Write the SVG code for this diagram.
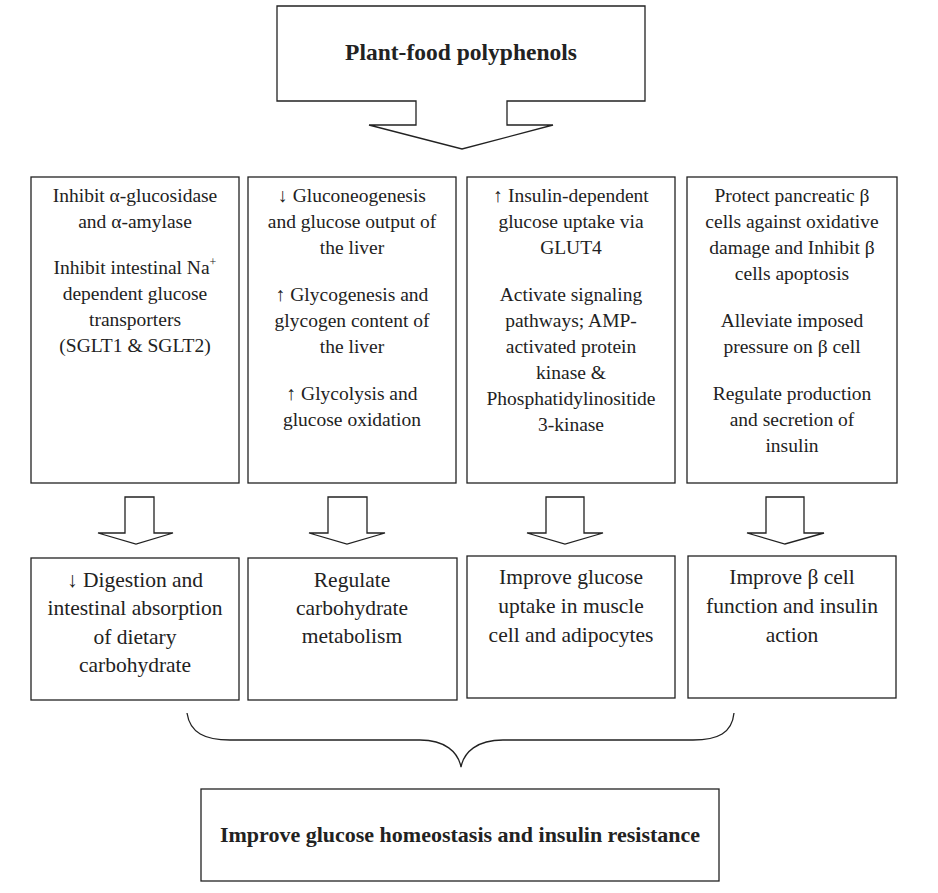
<svg xmlns="http://www.w3.org/2000/svg" width="938" height="893" viewBox="0 0 938 893">
<style>
.box{fill:#fff;stroke:#222;stroke-width:1.3}
.conn{fill:none;stroke:#222;stroke-width:1.3;stroke-linejoin:miter}
text{font-family:"Liberation Serif","Times New Roman",serif;fill:#222;text-anchor:middle}
.t1{font-size:19.5px}
.t2{font-size:21.5px}
.b{font-weight:bold}
</style>
<rect width="938" height="893" fill="#fff"/>
<g id="source">
<path class="box" d="M277,6 H645 V101 H507 V125 H553 L462,149 L369,125 H416 V101 H277 Z"/>
<text class="b" x="461" y="60" style="font-size:23.5px">Plant-food polyphenols</text>
</g>
<g id="mech1">
<rect class="box" x="31" y="177" width="208" height="306"/>
<text class="t1"><tspan x="135" y="202">Inhibit α-glucosidase</tspan><tspan x="135" y="228">and α-amylase</tspan><tspan x="135" y="274">Inhibit intestinal Na<tspan dy="-8" style="font-size:12px">+</tspan></tspan><tspan x="135" y="300">dependent glucose</tspan><tspan x="135" y="326">transporters</tspan><tspan x="135" y="352">(SGLT1 &amp; SGLT2)</tspan></text>
</g>
<g id="mech2">
<rect class="box" x="248" y="177" width="208" height="306"/>
<text class="t1"><tspan x="352" y="202">↓ Gluconeogenesis</tspan><tspan x="352" y="228">and glucose output of</tspan><tspan x="352" y="254">the liver</tspan><tspan x="352" y="301">↑ Glycogenesis and</tspan><tspan x="352" y="327">glycogen content of</tspan><tspan x="352" y="353">the liver</tspan><tspan x="352" y="400">↑ Glycolysis and</tspan><tspan x="352" y="426">glucose oxidation</tspan></text>
</g>
<g id="mech3">
<rect class="box" x="467" y="177" width="208" height="306"/>
<text class="t1"><tspan x="571" y="202">↑ Insulin-dependent</tspan><tspan x="571" y="228">glucose uptake via</tspan><tspan x="571" y="254">GLUT4</tspan><tspan x="571" y="301">Activate signaling</tspan><tspan x="571" y="327">pathways; AMP-</tspan><tspan x="571" y="353">activated protein</tspan><tspan x="571" y="379">kinase &amp;</tspan><tspan x="571" y="405">Phosphatidylinositide</tspan><tspan x="571" y="431">3-kinase</tspan></text>
</g>
<g id="mech4">
<rect class="box" x="687" y="177" width="210" height="306"/>
<text class="t1"><tspan x="792" y="202">Protect pancreatic β</tspan><tspan x="792" y="228">cells against oxidative</tspan><tspan x="792" y="254">damage and Inhibit β</tspan><tspan x="792" y="280">cells apoptosis</tspan><tspan x="792" y="327">Alleviate imposed</tspan><tspan x="792" y="353">pressure on β cell</tspan><tspan x="792" y="400">Regulate production</tspan><tspan x="792" y="426">and secretion of</tspan><tspan x="792" y="452">insulin</tspan></text>
</g>
<g id="connectors">
<path class="conn" d="M125,497 H154 V533 H173 L136,544 L98,533 H125 Z"/>
<path class="conn" d="M328,497 H367 V533 H385 L347,544 L309,533 H328 Z"/>
<path class="conn" d="M546,497 H584 V533 H603 L565,544 L527,533 H546 Z"/>
<path class="conn" d="M766,497 H804 V533 H824 L785,544 L747,533 H766 Z"/>
<path class="conn" d="M187,713 C190,733 205,740 230,740 L420,740 C445,740 458,752 461,767 C464,752 477,740 503,740 L693,740 C718,740 732,733 734,713"/>
</g>
<g id="effect1">
<rect class="box" x="31" y="558" width="208" height="142"/>
<text class="t2"><tspan x="135" y="587">↓ Digestion and</tspan><tspan x="135" y="615">intestinal absorption</tspan><tspan x="135" y="644">of dietary</tspan><tspan x="135" y="672">carbohydrate</tspan></text>
</g>
<g id="effect2">
<rect class="box" x="248" y="558" width="209" height="142"/>
<text class="t2"><tspan x="352" y="587">Regulate</tspan><tspan x="352" y="615">carbohydrate</tspan><tspan x="352" y="643">metabolism</tspan></text>
</g>
<g id="effect3">
<rect class="box" x="467" y="556" width="208" height="142"/>
<text class="t2"><tspan x="571" y="584">Improve glucose</tspan><tspan x="571" y="613">uptake in muscle</tspan><tspan x="571" y="642">cell and adipocytes</tspan></text>
</g>
<g id="effect4">
<rect class="box" x="688" y="556" width="208" height="142"/>
<text class="t2"><tspan x="792" y="584">Improve β cell</tspan><tspan x="792" y="613">function and insulin</tspan><tspan x="792" y="642">action</tspan></text>
</g>
<g id="outcome">
<rect class="box" x="201" y="789" width="518" height="92"/>
<text class="b" x="460" y="842" style="font-size:22px">Improve glucose homeostasis and insulin resistance</text>
</g>
</svg>
